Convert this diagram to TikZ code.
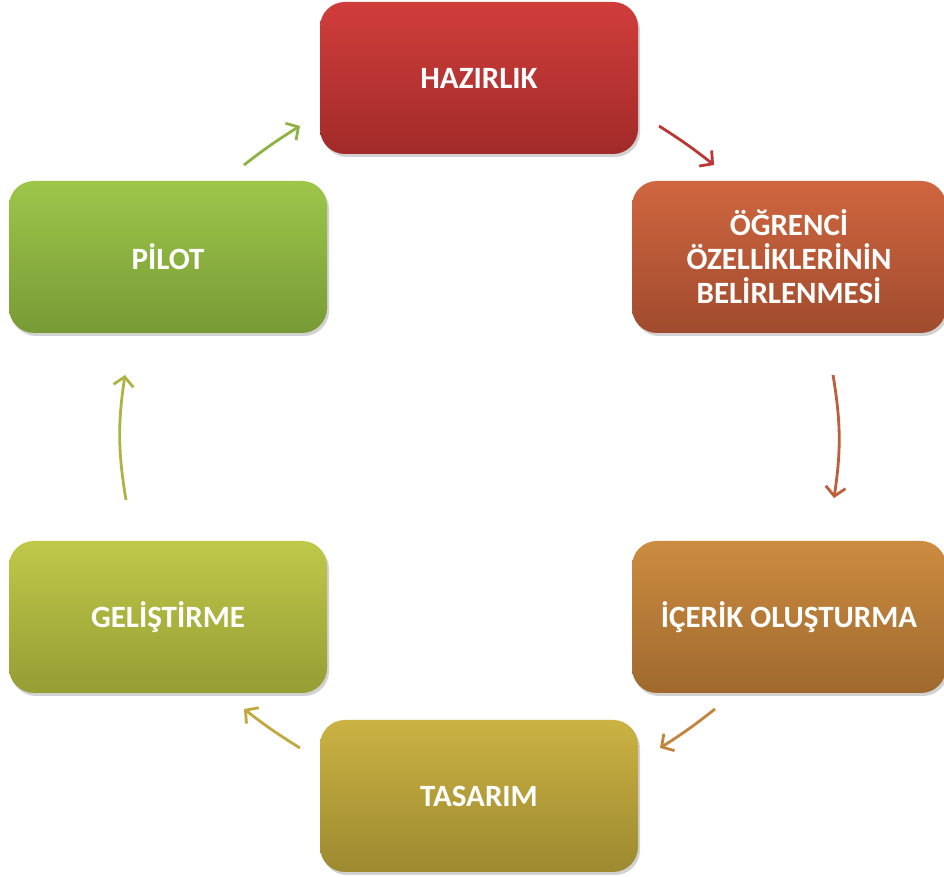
\documentclass[tikz,border=0pt]{standalone}
\usepackage{fontspec}
\setmainfont{Carlito}
\usepackage{tikz}
\usetikzlibrary{arrows.meta,shadows}

\definecolor{redtop}{HTML}{D03D3B}
\definecolor{redbot}{HTML}{A12B29}
\definecolor{rusttop}{HTML}{CF663F}
\definecolor{rustbot}{HTML}{A04B2E}
\definecolor{ochretop}{HTML}{CC8C40}
\definecolor{ochrebot}{HTML}{9F692E}
\definecolor{goldtop}{HTML}{CBB243}
\definecolor{goldbot}{HTML}{9D8A30}
\definecolor{limetop}{HTML}{C0C84A}
\definecolor{limebot}{HTML}{959D34}
\definecolor{leaftop}{HTML}{9EC64A}
\definecolor{leafbot}{HTML}{789A36}

\begin{document}
\begin{tikzpicture}[x=1pt,y=1pt,
  box/.style={rounded corners=25pt, minimum height=152pt, align=center,
    text=white, font=\fontsize{31}{34}\selectfont\bfseries,
    drop shadow={opacity=0.35, shadow xshift=2pt, shadow yshift=-3pt}},
  cyc/.style={line width=2.8pt, -{Straight Barb[length=9pt,width=20pt,line width=2.8pt]}}]
  \useasboundingbox (0,0) rectangle (944,877);
  \fill[white] (0,0) rectangle (944,877);
  % stages
  \node[box, minimum width=318pt, top color=redtop, bottom color=redbot] (hazirlik) at (479,799) {HAZIRLIK};
  \node[box, minimum width=314pt, top color=rusttop, bottom color=rustbot] (ogrenci) at (789,620) {ÖĞRENCİ\\ÖZELLİKLERİNİN\\BELİRLENMESİ};
  \node[box, minimum width=314pt, top color=ochretop, bottom color=ochrebot] (icerik) at (789,260) {İÇERİK OLUŞTURMA};
  \node[box, minimum width=318pt, top color=goldtop, bottom color=goldbot] (tasarim) at (479,81) {TASARIM};
  \node[box, minimum width=318pt, top color=limetop, bottom color=limebot] (gelistirme) at (168,260) {GELİŞTİRME};
  \node[box, minimum width=318pt, top color=leaftop, bottom color=leafbot] (pilot) at (168,620) {PİLOT};
  % arrow ends
  \coordinate (p1) at (244,712); \coordinate (h1) at (300,751);
  \coordinate (h2) at (659,751); \coordinate (o1) at (714,712);
  \coordinate (o2) at (833,502); \coordinate (i1) at (834,379);
  \coordinate (i2) at (715,168); \coordinate (t1) at (660,129);
  \coordinate (t2) at (300,129); \coordinate (g1) at (244,168);
  \coordinate (g2) at (126,377); \coordinate (p2) at (125,502);
  \draw[cyc, color=leaftop!90!black] (p1) to[bend left=3] (h1);
  \draw[cyc, color=redtop!90!black] (h2) to[bend left=3] (o1);
  \draw[cyc, color=rusttop!92!black] (o2) to[bend left=9] (i1);
  \draw[cyc, color=ochretop!95!black] (i2) to[bend left=3] (t1);
  \draw[cyc, color=goldtop!95!black] (t2) to[bend left=3] (g1);
  \draw[cyc, color=limetop!90!black] (g2) to[bend left=9] (p2);
\end{tikzpicture}
\end{document}
